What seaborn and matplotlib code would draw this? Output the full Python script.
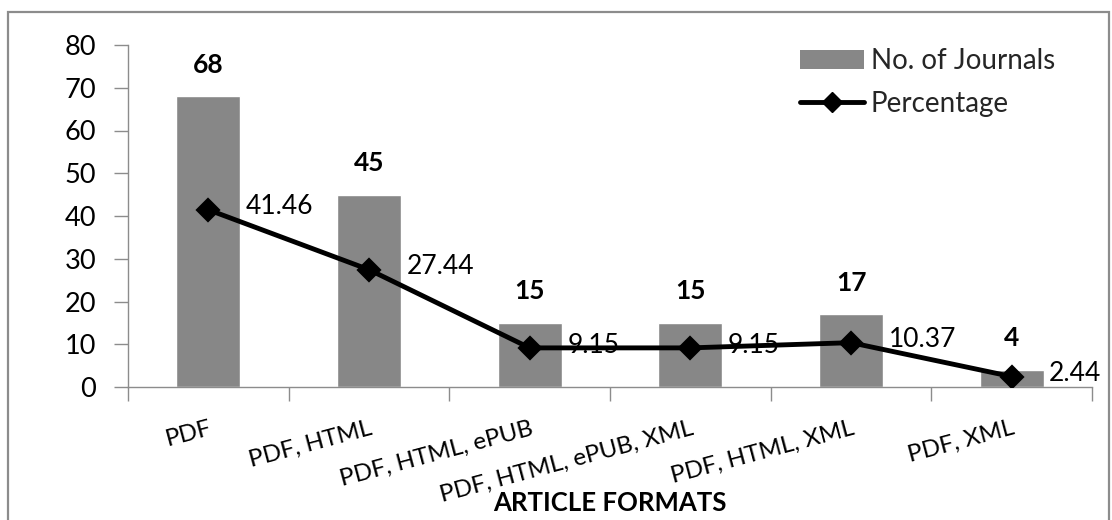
import matplotlib
matplotlib.use("Agg")
import matplotlib.pyplot as plt
from matplotlib.patches import Rectangle, Patch
from matplotlib.lines import Line2D
import seaborn as sns
import pandas as pd

categories = ["PDF", "PDF, HTML", "PDF, HTML, ePUB", "PDF, HTML, ePUB, XML",
              "PDF, HTML, XML", "PDF, XML"]
journals = [68, 45, 15, 15, 17, 4]
percentage = [41.46, 27.44, 9.15, 9.15, 10.37, 2.44]
y_ticks = [0, 10, 20, 30, 40, 50, 60, 70, 80]

df = pd.DataFrame({"format": categories, "journals": journals, "pct": percentage})

sns.set_theme(style="white")
plt.rcParams["font.family"] = ["Lato", "DejaVu Sans"]

W, H = 1112, 520
fig = plt.figure(figsize=(W / 100, H / 100), dpi=100)
fig.patch.set_facecolor("white")

# outer chart border
fig.patches.append(Rectangle((8 / W, -0.05), (1109 - 8) / W, (H - 12) / H + 0.05,
                             transform=fig.transFigure, fill=False,
                             edgecolor="#8c8c8c", linewidth=1.6, zorder=0))

ax = fig.add_axes([128 / W, (H - 387) / H, (1092 - 128) / W, (387 - 45) / H])

sns.barplot(data=df, x="format", y="journals", order=categories, color="#878787",
            saturation=1, width=0.4, ax=ax, zorder=2)
sns.pointplot(data=df, x="format", y="pct", order=categories, color="black",
              markers="D", markersize=10.5, linewidth=3.5, ax=ax, zorder=3)

ax.set_xlim(-0.5, len(categories) - 0.5)
ax.set_ylim(0, 80)
ax.set_yticks(y_ticks)
ax.set_yticklabels([str(t) for t in y_ticks], fontsize=19.5, color="black")
ax.tick_params(axis="y", which="major", direction="out", length=10, width=1,
               color="#8c8c8c", pad=13, left=True)

ax.set_xticks(range(len(categories)))
ax.set_xticklabels(categories, rotation=15, ha="right", va="top",
                   rotation_mode="anchor", fontsize=17.5, color="black")
ax.tick_params(axis="x", which="major", length=0, pad=22)
ax.set_xticks([i - 0.5 for i in range(len(categories) + 1)], minor=True)
ax.tick_params(axis="x", which="minor", direction="out", length=10, width=1,
               color="#8c8c8c", bottom=True)

for s in ["top", "right"]:
    ax.spines[s].set_visible(False)
for s in ["left", "bottom"]:
    ax.spines[s].set_color("#8c8c8c")
    ax.spines[s].set_linewidth(1)

ax.set_ylabel("")
ax.set_xlabel("ARTICLE FORMATS", fontsize=18.5, fontweight="bold", color="black")
ax.xaxis.set_label_coords(0.5, -0.305)

for i, (n, p) in enumerate(zip(journals, percentage)):
    ax.annotate(str(n), (i, n), xytext=(0, 14), textcoords="offset points",
                ha="center", va="bottom", fontsize=19, fontweight="bold", color="black")
    ax.annotate(f"{p:.2f}", (i, p), xytext=(27, 2), textcoords="offset points",
                ha="left", va="center", fontsize=19, color="black", zorder=4)

handles = [Patch(facecolor="#878787", edgecolor="none", label="No. of Journals"),
           Line2D([0], [0], color="black", linewidth=3.5, marker="D", markersize=10.5,
                  label="Percentage")]
leg = fig.legend(handles=handles, loc="upper left", bbox_to_anchor=(800 / W, 1 - 48 / H),
                 frameon=False, fontsize=20, handlelength=2.3, handletextpad=0.25,
                 labelspacing=0.6, borderpad=0, borderaxespad=0)

fig.savefig("out.png", dpi=100)
